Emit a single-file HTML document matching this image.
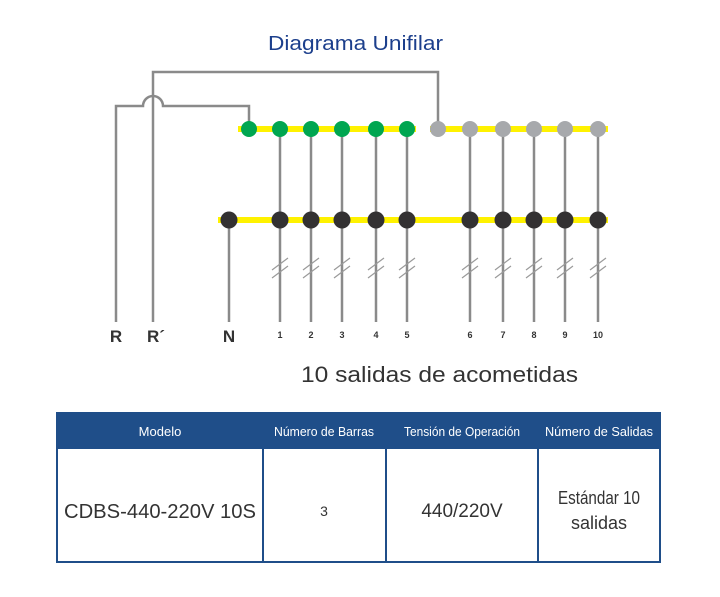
<!DOCTYPE html>
<html><head><meta charset="utf-8"><style>
body{margin:0;background:#fff;width:720px;height:597px;overflow:hidden}
svg{display:block}
</style></head><body>
<svg width="720" height="597" viewBox="0 0 720 597" font-family="Liberation Sans, sans-serif">
<text x="268" y="50" font-size="20" fill="#1c3f8c" textLength="175" lengthAdjust="spacingAndGlyphs">Diagrama Unifilar</text>
<g stroke="#fff200" stroke-width="6">
<line x1="238" y1="129" x2="416" y2="129"/>
<line x1="430" y1="129" x2="608" y2="129"/>
<line x1="218" y1="220" x2="608" y2="220"/>
</g>
<g stroke="#8a8a8a" stroke-width="2.5" fill="none">
<path d="M116 322 V106 H143 A10 10 0 0 1 163 106 H249 V129"/>
<path d="M153 322 V72 H438 V129"/>
<line x1="229" y1="220" x2="229" y2="322"/>
<line x1="280" y1="129" x2="280" y2="322"/>
<line x1="311" y1="129" x2="311" y2="322"/>
<line x1="342" y1="129" x2="342" y2="322"/>
<line x1="376" y1="129" x2="376" y2="322"/>
<line x1="407" y1="129" x2="407" y2="322"/>
<line x1="470" y1="129" x2="470" y2="322"/>
<line x1="503" y1="129" x2="503" y2="322"/>
<line x1="534" y1="129" x2="534" y2="322"/>
<line x1="565" y1="129" x2="565" y2="322"/>
<line x1="598" y1="129" x2="598" y2="322"/>
</g>
<g stroke="#9a9a9a" stroke-width="1.2">
<path d="M272 270 l16 -12 M272 278 l16 -12 M303 270 l16 -12 M303 278 l16 -12 M334 270 l16 -12 M334 278 l16 -12 M368 270 l16 -12 M368 278 l16 -12 M399 270 l16 -12 M399 278 l16 -12 M462 270 l16 -12 M462 278 l16 -12 M495 270 l16 -12 M495 278 l16 -12 M526 270 l16 -12 M526 278 l16 -12 M557 270 l16 -12 M557 278 l16 -12 M590 270 l16 -12 M590 278 l16 -12"/>
</g>
<g fill="#00a651">
<circle cx="249" cy="129" r="8"/><circle cx="280" cy="129" r="8"/><circle cx="311" cy="129" r="8"/><circle cx="342" cy="129" r="8"/><circle cx="376" cy="129" r="8"/><circle cx="407" cy="129" r="8"/>
</g>
<g fill="#a7a9ac">
<circle cx="438" cy="129" r="8"/><circle cx="470" cy="129" r="8"/><circle cx="503" cy="129" r="8"/><circle cx="534" cy="129" r="8"/><circle cx="565" cy="129" r="8"/><circle cx="598" cy="129" r="8"/>
</g>
<g fill="#333132">
<circle cx="229" cy="220" r="8.5"/><circle cx="280" cy="220" r="8.5"/><circle cx="311" cy="220" r="8.5"/><circle cx="342" cy="220" r="8.5"/><circle cx="376" cy="220" r="8.5"/><circle cx="407" cy="220" r="8.5"/>
<circle cx="470" cy="220" r="8.5"/><circle cx="503" cy="220" r="8.5"/><circle cx="534" cy="220" r="8.5"/><circle cx="565" cy="220" r="8.5"/><circle cx="598" cy="220" r="8.5"/>
</g>
<g fill="#333" font-weight="bold" text-anchor="middle">
<text x="116" y="342" font-size="17">R</text>
<text x="156" y="342" font-size="17">R´</text>
<text x="229" y="342" font-size="17">N</text>
<g font-size="9">
<text x="280" y="338">1</text><text x="311" y="338">2</text><text x="342" y="338">3</text><text x="376" y="338">4</text><text x="407" y="338">5</text>
<text x="470" y="338">6</text><text x="503" y="338">7</text><text x="534" y="338">8</text><text x="565" y="338">9</text><text x="598" y="338">10</text>
</g>
</g>
<text x="301" y="382" font-size="22" fill="#333" textLength="277" lengthAdjust="spacingAndGlyphs">10 salidas de acometidas</text>
<rect x="56" y="413" width="605" height="36" fill="#1f4e89"/>
<rect x="57" y="413" width="603" height="149" fill="none" stroke="#1f4e89" stroke-width="2"/>
<g stroke="#1f4e89" stroke-width="2">
<line x1="263" y1="413" x2="263" y2="562"/><line x1="386" y1="413" x2="386" y2="562"/><line x1="538" y1="413" x2="538" y2="562"/>
</g>
<g fill="#fff" font-size="13" text-anchor="middle">
<text x="160" y="436">Modelo</text>
<text x="324" y="436" textLength="100" lengthAdjust="spacingAndGlyphs">Número de Barras</text>
<text x="462" y="436" textLength="116" lengthAdjust="spacingAndGlyphs">Tensión de Operación</text>
<text x="599" y="436" textLength="108" lengthAdjust="spacingAndGlyphs">Número de Salidas</text>
</g>
<g fill="#333" text-anchor="middle">
<text x="160" y="518" font-size="20" textLength="192" lengthAdjust="spacingAndGlyphs">CDBS-440-220V 10S</text>
<text x="324" y="516" font-size="14">3</text>
<text x="462" y="517" font-size="19">440/220V</text>
<text x="599" y="504" font-size="18" textLength="82" lengthAdjust="spacingAndGlyphs">Estándar 10</text>
<text x="599" y="529" font-size="18">salidas</text>
</g>
</svg>
</body></html>
